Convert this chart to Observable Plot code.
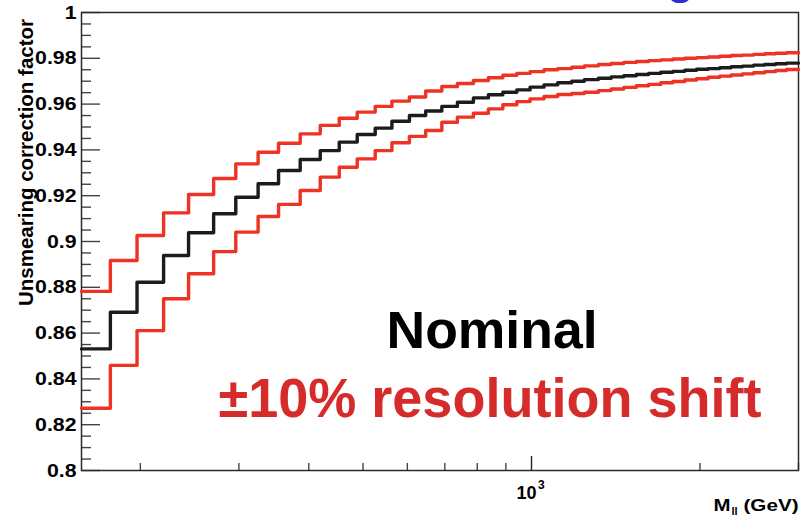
<!DOCTYPE html>
<html><head><meta charset="utf-8">
<script src="https://cdn.jsdelivr.net/npm/d3@7"></script>
<script src="https://cdn.jsdelivr.net/npm/@observablehq/plot@0.6"></script>
<style>
body{margin:0;background:#fff;}
svg{font-family:"Liberation Sans",Arial,Helvetica,sans-serif;}
</style>
</head><body><div id="chart"></div>
<script>
// Bin edges in GeV (M_ll), log axis
const binEdges = [157, 176.8, 197.3, 220.1, 243.9, 270.4, 296.2, 324.7, 353.2, 386.1, 419.3, 453.4, 488.2, 525.7, 563.1, 605.2, 647, 691.5, 737.3, 787.5, 837.5, 888.7, 941.3, 994.2, 1053, 1114, 1180, 1243, 1317, 1388, 1462, 1539, 1619, 1702, 1789, 1879, 1972, 2069, 2170, 2274, 2382, 2494, 2610, 2731, 2856, 3000];
// Unsmearing correction factor per bin
const nominal = [0.8531,0.8691,0.8822,0.8939,0.9038,0.9121,0.9193,0.9252,0.9310,0.9358,0.9397,0.9434,0.9467,0.9495,0.9525,0.9550,0.9570,0.9590,0.9608,0.9627,0.9641,0.9652,0.9662,0.9674,0.9684,0.9693,0.9700,0.9707,0.9713,0.9719,0.9724,0.9729,0.9734,0.9739,0.9743,0.9748,0.9752,0.9755,0.9759,0.9763,0.9766,0.9770,0.9773,0.9776,0.9779];
const shiftUp = [0.8782,0.8917,0.9026,0.9125,0.9205,0.9275,0.9339,0.9390,0.9429,0.9470,0.9507,0.9538,0.9565,0.9590,0.9613,0.9631,0.9657,0.9677,0.9690,0.9703,0.9715,0.9726,0.9734,0.9742,0.9750,0.9755,0.9761,0.9767,0.9773,0.9777,0.9782,0.9786,0.9790,0.9793,0.9797,0.9800,0.9803,0.9806,0.9809,0.9812,0.9814,0.9817,0.9820,0.9822,0.9824];
const shiftDown = [0.8272,0.8459,0.8611,0.8750,0.8859,0.8956,0.9041,0.9109,0.9162,0.9223,0.9281,0.9324,0.9361,0.9397,0.9431,0.9459,0.9485,0.9521,0.9543,0.9560,0.9579,0.9597,0.9611,0.9623,0.9633,0.9642,0.9646,0.9652,0.9659,0.9666,0.9673,0.9680,0.9686,0.9693,0.9699,0.9705,0.9711,0.9717,0.9722,0.9727,0.9732,0.9737,0.9742,0.9747,0.9751];

const yTickValues = [0.8,0.82,0.84,0.86,0.88,0.9,0.92,0.94,0.96,0.98,1];
const yTickLabels = ["0.8","0.82","0.84","0.86","0.88","0.9","0.92","0.94","0.96","0.98","1"];
const yMinorTicks = d3.range(0.805, 1, 0.005).filter(v => Math.abs(v*50 - Math.round(v*50)) > 1e-6);
const xMajorTicks = [1000];
const xTickLabels = ["10"];
const xTickExponents = ["3"];
const xMinorTicks = [200,300,400,500,600,700,800,900,2000,3000];

const yTitle = "Unsmearing correction factor";
const xTitleMain = "M";
const xTitleSub = "ll";
const xTitleUnit = "(GeV)";
const labelNominal = "Nominal";
const labelShift = "±10% resolution shift";

function stepRows(values) {
  const rows = values.map((v, i) => ({x: binEdges[i], y: v}));
  rows.push({x: binEdges[values.length], y: values[values.length - 1]});
  return rows;
}

const RED = "#ee3224";
const BLACK = "#1c1c1c";
const FONT = "'Liberation Sans', Arial, Helvetica, sans-serif";

const svg = Plot.plot({
  width: 800,
  height: 515,
  marginLeft: 81,
  marginRight: 2,
  marginTop: 12,
  marginBottom: 45,
  style: {fontFamily: FONT, background: "#fff"},
  x: {type: "log", domain: [157, 3000], label: null, axis: null},
  y: {domain: [0.8, 1], label: null, axis: null},
  marks: [
    Plot.tickY(yMinorTicks, {stroke: "#444", strokeWidth: 1.4, insetRight: 707}),
    Plot.tickY(yTickValues, {stroke: "#444", strokeWidth: 1.4, insetRight: 698}),
    Plot.tickX(xMinorTicks, {stroke: "#444", strokeWidth: 1.4, insetTop: 451}),
    Plot.tickX(xMajorTicks, {stroke: "#222", strokeWidth: 1.4, insetTop: 444}),
    Plot.text(yTickValues, {y: d => d, text: d => yTickLabels[yTickValues.indexOf(d)], frameAnchor: "left", dx: -5, textAnchor: "end", lineAnchor: "middle", fontSize: 19, fontWeight: "bold", fill: "#000"}),
    Plot.text(xMajorTicks, {x: d => d, text: d => xTickLabels[xMajorTicks.indexOf(d)], frameAnchor: "bottom", dx: -5, dy: 28, textAnchor: "middle", lineAnchor: "bottom", fontSize: 18, fontWeight: "bold", fill: "#000"}),
    Plot.text(xMajorTicks, {x: d => d, text: d => xTickExponents[xMajorTicks.indexOf(d)], frameAnchor: "bottom", dx: 6.5, dy: 18.6, textAnchor: "start", lineAnchor: "bottom", fontSize: 12, fontWeight: "bold", fill: "#000"}),
    Plot.frame({stroke: "#2a2a2a", strokeWidth: 1.5}),
    Plot.line(stepRows(shiftUp), {x: "x", y: "y", curve: "step-after", stroke: RED, strokeWidth: 3.4}),
    Plot.line(stepRows(shiftDown), {x: "x", y: "y", curve: "step-after", stroke: RED, strokeWidth: 3.4}),
    Plot.line(stepRows(nominal), {x: "x", y: "y", curve: "step-after", stroke: BLACK, strokeWidth: 3.4}),
    Plot.text([labelNominal], {text: d => d, frameAnchor: "top-left", dx: 410.5, dy: 335, textAnchor: "middle", lineAnchor: "bottom", fontSize: 51, fontWeight: "bold", fill: "#000"}),
    Plot.text([labelShift], {text: d => d, frameAnchor: "top-left", dx: 408.5, dy: 404, textAnchor: "middle", lineAnchor: "bottom", fontSize: 56, fontWeight: "bold", fill: "#d62b2b"}),
    Plot.text([yTitle], {text: d => d, frameAnchor: "top-left", dx: -49, dy: 150, rotate: -90, textAnchor: "middle", lineAnchor: "bottom", fontSize: 20.5, fontWeight: "bold", fill: "#000"}),
    Plot.text([xTitleMain], {text: d => d, frameAnchor: "bottom-right", dx: -85, dy: 40, textAnchor: "start", lineAnchor: "bottom", fontSize: 16, fontWeight: "bold", fill: "#000"}),
    Plot.text([xTitleSub], {text: d => d, frameAnchor: "bottom-right", dx: -67, dy: 44, textAnchor: "start", lineAnchor: "bottom", fontSize: 11, fontWeight: "bold", fill: "#000"}),
    Plot.text([xTitleUnit], {text: d => d, frameAnchor: "bottom-right", dx: 0, dy: 40, textAnchor: "end", lineAnchor: "bottom", fontSize: 16, fontWeight: "bold", fill: "#000"}),
    Plot.text(["g"], {text: d => d, frameAnchor: "top-left", dx: 599, dy: -19, textAnchor: "middle", lineAnchor: "bottom", fontSize: 44, fontWeight: "bold", fill: "#2d2dd2"})
  ]
});
document.getElementById("chart").append(svg);

const allTexts = Array.from(svg.querySelectorAll("text"));
function fitLength(content, length) {
  allTexts.filter(t => t.textContent === content).forEach(t => {
    t.setAttribute("textLength", length);
    t.setAttribute("lengthAdjust", "spacingAndGlyphs");
  });
}
function stretch(contents, factor) {
  allTexts.filter(t => contents.includes(t.textContent)).forEach(t => {
    const w = t.getComputedTextLength();
    t.setAttribute("textLength", w * factor);
    t.setAttribute("lengthAdjust", "spacingAndGlyphs");
  });
}
fitLength(labelNominal, 211);
fitLength(labelShift, 543);
fitLength(xTitleMain, 17);
fitLength(xTitleUnit, 55);
stretch(yTickLabels, 1.12);
</script>
</body></html>
